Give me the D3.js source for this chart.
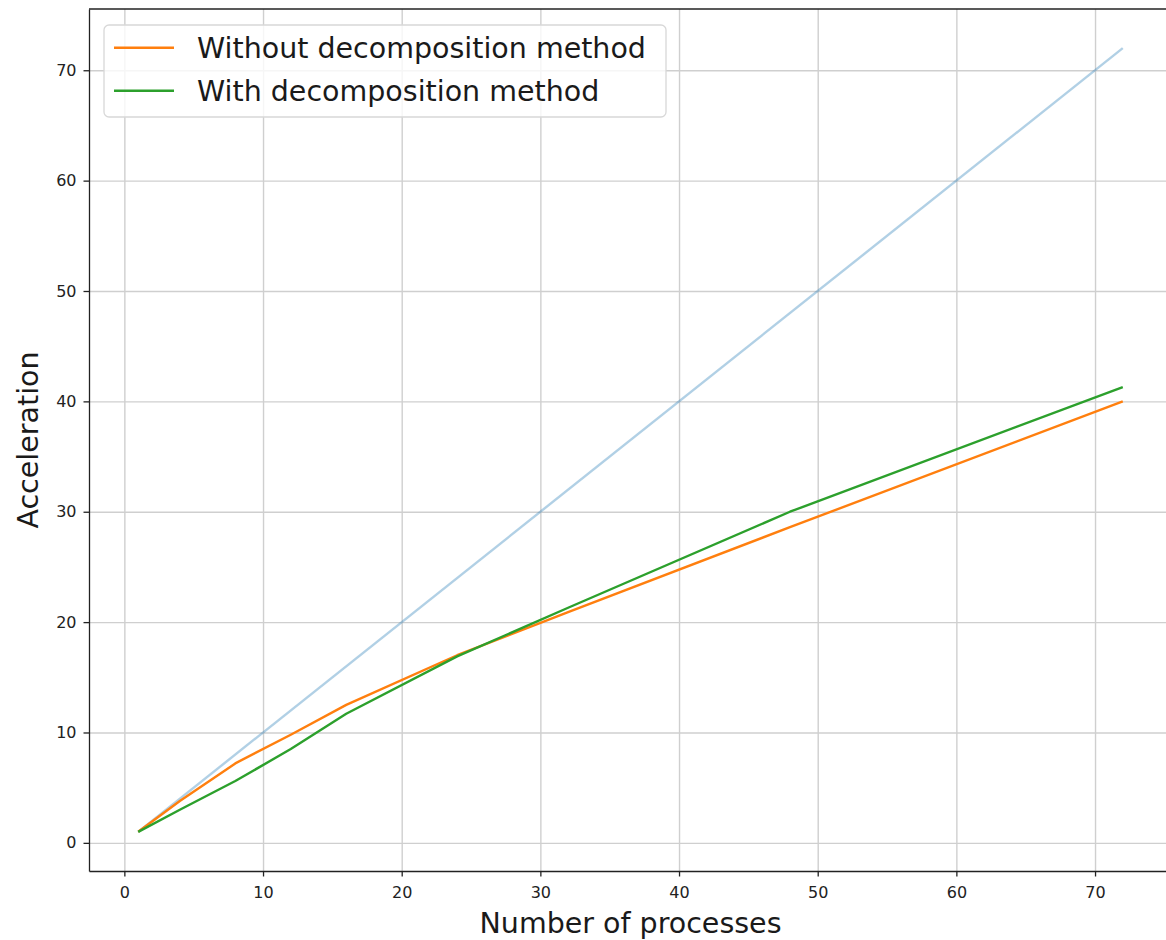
<!DOCTYPE html>
<html>
<head>
<meta charset="utf-8">
<script src="https://cdn.jsdelivr.net/npm/d3@7"></script>
<style>
  body { margin: 0; background: #fff; }
  text { font-family: "DejaVu Sans", sans-serif; }
</style>
</head>
<body>
<div id="chart"></div>
<script>
// process counts and measured speedups
const procs = [1, 4, 8, 12, 16, 24, 32, 48, 72]
const withoutDecomp = [1, 3.8, 7.2, 9.8, 12.5, 17.0, 20.9, 28.6, 40.0]
const withDecomp = [1, 3.0, 5.6, 8.5, 11.7, 16.9, 21.3, 30.0, 41.3]
const ideal = [1, 72]
const xTicks = [0, 10, 20, 30, 40, 50, 60, 70]
const yTicks = [0, 10, 20, 30, 40, 50, 60, 70]
const seriesNames = ['Without decomposition method', 'With decomposition method']

function drawChart(){
    let width = 1166, height = 940
    let margin = {top: 9, right: -6, bottom: 69, left: 89}
    let pxX = width - margin.left - margin.right,
        pxY = height - margin.top - margin.bottom

    let svg = d3.select('#chart').append('svg')
        .attr('width', width)
        .attr('height', height)
        .style('background', 'white')

    let g = svg.append('g')
        .attr('transform', `translate(${margin.left} ${margin.top})`)

    // matplotlib style 5% padding
    let lo = 1 - 0.05 * 71, hi = 72 + 0.05 * 71
    let scX = d3.scaleLinear().domain([lo, hi]).range([0, pxX])
    let scY = d3.scaleLinear().domain([lo, hi]).range([pxY, 0])

    // grid
    g.append('g')
        .attr('transform', `translate(0, ${pxY})`)
        .call(d3.axisBottom(scX).tickValues(xTicks).tickSize(-pxY).tickFormat(''))
        .call(a => a.select('.domain').remove())
        .selectAll('line').attr('stroke', '#cfcfcf').attr('stroke-width', 1.4)
    g.append('g')
        .call(d3.axisLeft(scY).tickValues(yTicks).tickSize(-pxX).tickFormat(''))
        .call(a => a.select('.domain').remove())
        .selectAll('line').attr('stroke', '#cfcfcf').attr('stroke-width', 1.4)

    let line = d3.line().x(d => scX(d[0])).y(d => scY(d[1]))

    g.append('path')
        .attr('d', line(ideal.map(v => [v, v])))
        .attr('fill', 'none')
        .attr('stroke', '#1f77b4')
        .attr('stroke-opacity', 0.35)
        .attr('stroke-width', 2.4)

    let colors = ['#ff7f0e', '#2ca02c']
    let series = [withoutDecomp, withDecomp]
    series.forEach((vals, idx) => {
        g.append('path')
            .attr('d', line(vals.map((v, i) => [procs[i], v])))
            .attr('fill', 'none')
            .attr('stroke', colors[idx])
            .attr('stroke-width', 2.4)
            .attr('stroke-linejoin', 'round')
    })

    // axes
    let xAxis = g.append('g')
        .attr('transform', `translate(0, ${pxY})`)
        .call(d3.axisBottom(scX).tickValues(xTicks).tickSize(5.5).tickPadding(10).tickSizeOuter(0))
    let yAxis = g.append('g')
        .call(d3.axisLeft(scY).tickValues(yTicks).tickSize(5.5).tickPadding(7).tickSizeOuter(0))
    ;[xAxis, yAxis].forEach(a => {
        a.selectAll('.domain').attr('stroke', '#222').attr('stroke-width', 1.3)
        a.selectAll('.tick line').attr('stroke', '#222').attr('stroke-width', 1.3)
        a.selectAll('text').attr('font-size', '16px').attr('fill', '#222')
            .style('font-family', '"DejaVu Sans", sans-serif')
    })
    // top spine
    g.append('line')
        .attr('x1', 0).attr('x2', pxX).attr('y1', 0).attr('y2', 0)
        .attr('stroke', '#222').attr('stroke-width', 1.3)

    // labels, centred on the axes box
    svg.append('text')
        .attr('x', margin.left + pxX / 2)
        .attr('y', 933)
        .attr('text-anchor', 'middle')
        .attr('font-size', '28.5px')
        .attr('fill', '#1a1a1a')
        .text('Number of processes')
    svg.append('text')
        .attr('transform', `translate(38, ${margin.top + pxY / 2}) rotate(-90)`)
        .attr('text-anchor', 'middle')
        .attr('font-size', '28.5px')
        .attr('fill', '#1a1a1a')
        .text('Acceleration')

    // legend
    let lg = svg.append('g').attr('transform', 'translate(104, 25)')
    lg.append('rect')
        .attr('width', 562).attr('height', 92)
        .attr('rx', 5)
        .attr('fill', 'white').attr('fill-opacity', 0.8)
        .attr('stroke', '#d8d8d8').attr('stroke-width', 1.3)
    seriesNames.forEach((name, idx) => {
        let y = 22.7 + idx * 43
        lg.append('line')
            .attr('x1', 10).attr('x2', 70).attr('y1', y).attr('y2', y)
            .attr('stroke', colors[idx]).attr('stroke-width', 2.4)
        lg.append('text')
            .attr('x', 93).attr('y', y)
            .attr('dy', '0.36em')
            .attr('font-size', '28.5px')
            .attr('fill', '#1a1a1a')
            .text(name)
    })
}

drawChart()
</script>
</body>
</html>
